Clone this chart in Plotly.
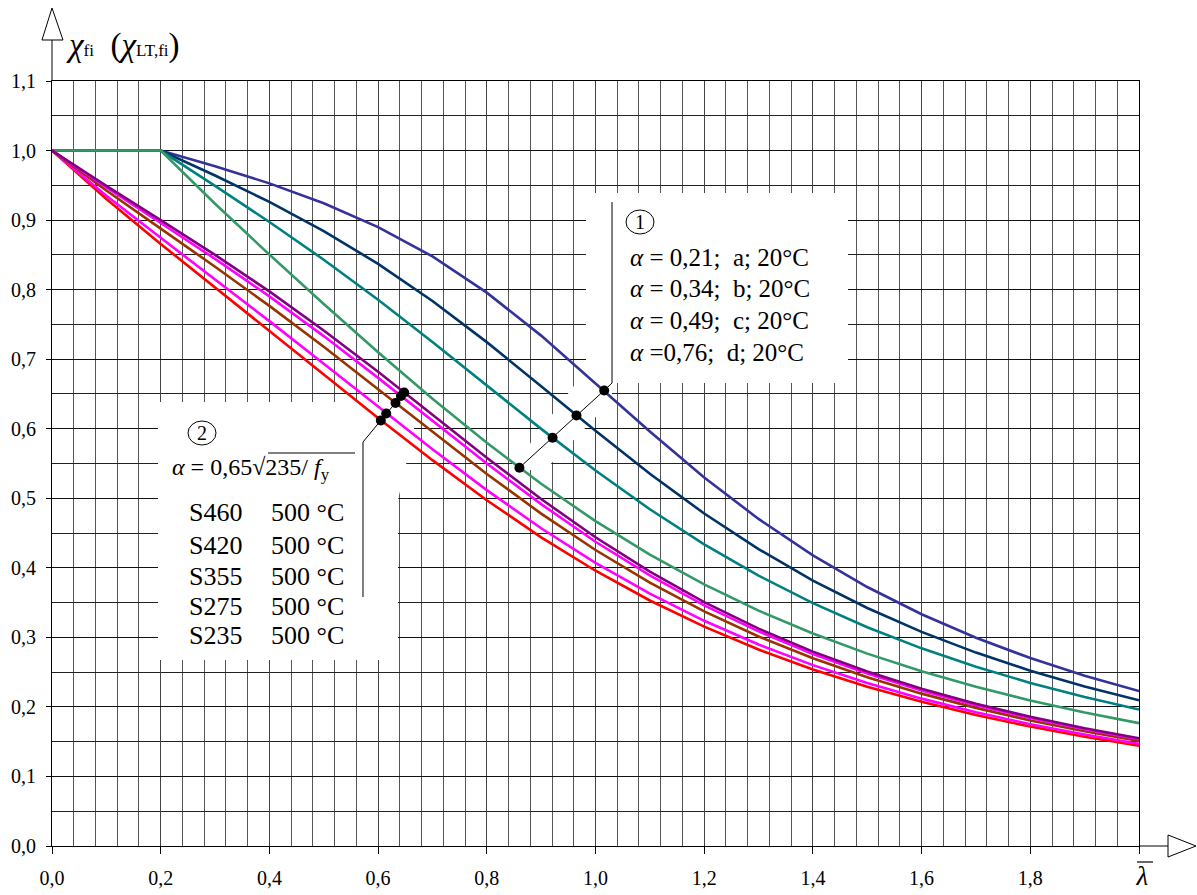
import plotly.graph_objects as go

# ---------------- data ----------------
lam = [0.0, 0.1, 0.2, 0.3, 0.4, 0.5, 0.6, 0.7, 0.8, 0.9, 1.0,
       1.1, 1.2, 1.3, 1.4, 1.5, 1.6, 1.7, 1.8, 1.9, 2.0]

# 20 degC buckling curves a, b, c, d
chi_a = [1.0, 1.0, 1.0, 0.9775, 0.9528, 0.9243, 0.8900, 0.8477, 0.7957, 0.7339, 0.6656,
         0.5960, 0.5300, 0.4703, 0.4179, 0.3724, 0.3332, 0.2994, 0.2702, 0.2449, 0.2229]
chi_b = [1.0, 1.0, 1.0, 0.9641, 0.9261, 0.8842, 0.8371, 0.7837, 0.7245, 0.6612, 0.5970,
         0.5352, 0.4781, 0.4269, 0.3817, 0.3422, 0.3079, 0.2781, 0.2521, 0.2294, 0.2095]
chi_c = [1.0, 1.0, 1.0, 0.9491, 0.8973, 0.8430, 0.7854, 0.7247, 0.6622, 0.5998, 0.5399,
         0.4842, 0.4338, 0.3888, 0.3492, 0.3145, 0.2842, 0.2577, 0.2345, 0.2141, 0.1962]
chi_d = [1.0, 1.0, 1.0, 0.9235, 0.8504, 0.7793, 0.7100, 0.6431, 0.5797, 0.5208, 0.4671,
         0.4189, 0.3762, 0.3385, 0.3055, 0.2766, 0.2512, 0.2289, 0.2093, 0.1920, 0.1766]

# fire curves at 500 degC
chi_s460 = [1.0, 0.9491, 0.8999, 0.8500, 0.7974, 0.7413, 0.6818, 0.6200, 0.5582, 0.4989, 0.4439,
            0.3944, 0.3507, 0.3126, 0.2795, 0.2509, 0.2261, 0.2045, 0.1858, 0.1694, 0.1549]
chi_s420 = [1.0, 0.9469, 0.8958, 0.8442, 0.7903, 0.7332, 0.6731, 0.6114, 0.5501, 0.4916, 0.4375,
            0.3890, 0.3461, 0.3087, 0.2762, 0.2481, 0.2237, 0.2025, 0.1840, 0.1678, 0.1536]
chi_s355 = [1.0, 0.9425, 0.8878, 0.8330, 0.7766, 0.7178, 0.6569, 0.5953, 0.5350, 0.4779, 0.4256,
            0.3787, 0.3374, 0.3013, 0.2699, 0.2427, 0.2191, 0.1986, 0.1806, 0.1649, 0.1510]
chi_s275 = [1.0, 0.9351, 0.8745, 0.8149, 0.7547, 0.6934, 0.6315, 0.5704, 0.5117, 0.4569, 0.4072,
            0.3629, 0.3238, 0.2898, 0.2601, 0.2343, 0.2119, 0.1923, 0.1752, 0.1602, 0.1469]
chi_s235 = [1.0, 0.9302, 0.8656, 0.8030, 0.7405, 0.6778, 0.6155, 0.5548, 0.4972, 0.4439, 0.3958,
            0.3530, 0.3154, 0.2825, 0.2539, 0.2290, 0.2073, 0.1883, 0.1717, 0.1571, 0.1443]

# marked points on the curves
dots1_x = [0.860, 0.921, 0.965, 1.016]
dots1_y = [0.544, 0.587, 0.619, 0.655]
dots2_x = [0.605, 0.615, 0.632, 0.642, 0.648]
dots2_y = [0.612, 0.622, 0.637, 0.647, 0.652]

x_tick_vals = [0.0, 0.2, 0.4, 0.6, 0.8, 1.0, 1.2, 1.4, 1.6, 1.8, 2.0]
x_tick_text = ["0,0", "0,2", "0,4", "0,6", "0,8", "1,0", "1,2", "1,4", "1,6", "1,8",
               "<span style='font-size:27px'> <i>λ</i></span>"]
y_tick_vals = [0.0, 0.1, 0.2, 0.3, 0.4, 0.5, 0.6, 0.7, 0.8, 0.9, 1.0, 1.1]
y_tick_text = ["0,0", "0,1", "0,2", "0,3", "0,4", "0,5", "0,6", "0,7", "0,8", "0,9", "1,0", "1,1"]

legend1 = ["<i>α</i> = 0,21;  a; 20°C", "<i>α</i> = 0,34;  b; 20°C",
           "<i>α</i> = 0,49;  c; 20°C", "<i>α</i> =0,76;  d; 20°C"]
steels = ["S460", "S420", "S355", "S275", "S235"]

# ---------------- layout geometry (pixels) ----------------
W, H = 1197, 895
L, R, T, B = 52, 1139, 81, 846
FONT = "Liberation Serif, Times New Roman, serif"
XMAX, YMAX = 2.0, 1.1


def px(x):
    return (x - L) / (R - L)


def py(y):
    return (B - y) / (B - T)


def dx(x):
    return px(x) * XMAX


def dy(y):
    return py(y) * YMAX


def path(points):
    return "M " + " L ".join(f"{px(a):.5f},{py(b):.5f}" for a, b in points) + " Z"


def dpath(points):
    return "M " + " L ".join(f"{a:.4f},{b:.4f}" for a, b in points)


fig = go.Figure()

# white callout areas: over the grid, under the curves
box1 = [(586, 193), (848, 193), (848, 383), (612, 383), (612, 400), (545, 470), (510, 470), (586, 370), (586, 193)]
box2 = [(158, 402), (420, 402), (398, 500), (398, 660), (158, 660), (158, 402)]
for bx in (box1, box2):
    fig.add_trace(go.Scatter(x=[dx(a) for a, b in bx], y=[dy(b) for a, b in bx], mode="lines",
                             fill="toself", fillcolor="white", line=dict(width=0, color="white"),
                             hoverinfo="skip"))

curves = [
    (chi_a, "#333399"), (chi_b, "#003366"), (chi_c, "#008080"), (chi_d, "#339966"),
    (chi_s235, "#FF0000"), (chi_s275, "#FF00FF"), (chi_s355, "#993300"),
    (chi_s420, "#FF00FF"), (chi_s460, "#800080"),
]
for ys, col in curves:
    fig.add_trace(go.Scatter(x=lam, y=ys, mode="lines",
                             line=dict(color=col, width=2.6), hoverinfo="skip"))

fig.add_trace(go.Scatter(x=dots1_x + dots2_x, y=dots1_y + dots2_y, mode="markers",
                         marker=dict(color="black", size=10), hoverinfo="skip"))

shapes = []
# leader lines
lead1 = [(dots1_x[0], dots1_y[0]), (dots1_x[-1], dots1_y[-1]), (dx(612), dy(383)), (dx(612), dy(202))]
lead2 = [(dx(363), dy(597)), (dx(363), dy(442)), (dots2_x[0], dots2_y[0]), (dots2_x[-1], dots2_y[-1])]
for ld in (lead1, lead2):
    shapes.append(dict(type="path", xref="x", yref="y", path=dpath(ld),
                       line=dict(color="black", width=1), layer="above"))

# axis extensions and arrow heads
shapes.append(dict(type="line", xref="paper", yref="paper", x0=px(52), y0=py(81), x1=px(52), y1=py(40),
                   line=dict(color="black", width=1)))
shapes.append(dict(type="line", xref="paper", yref="paper", x0=px(1139), y0=py(846), x1=px(1168), y1=py(846),
                   line=dict(color="black", width=1)))
shapes.append(dict(type="path", xref="paper", yref="paper", path=path([(42, 40), (52, 8), (63, 40)]),
                   fillcolor="white", line=dict(color="black", width=1)))
shapes.append(dict(type="path", xref="paper", yref="paper", path=path([(1168, 835), (1196, 846), (1168, 857)]),
                   fillcolor="white", line=dict(color="black", width=1)))
# overline of lambda
shapes.append(dict(type="line", xref="paper", yref="paper", x0=px(1137), y0=py(862), x1=px(1153), y1=py(862),
                   line=dict(color="black", width=1.2)))
# radical overline
shapes.append(dict(type="line", xref="paper", yref="paper", x0=px(268), y0=py(453), x1=px(355), y1=py(453),
                   line=dict(color="black", width=1.2)))
# circles around 1 and 2
for cx, cy in ((640, 222), (202, 433)):
    shapes.append(dict(type="circle", xref="paper", yref="paper",
                       x0=px(cx - 14), x1=px(cx + 14), y0=py(cy + 12), y1=py(cy - 12),
                       line=dict(color="black", width=1)))

ann = []


def text(x, y, s, size, xanchor="left"):
    ann.append(dict(x=px(x), y=py(y), xref="paper", yref="paper", text=s, showarrow=False,
                    xanchor=xanchor, yanchor="middle", font=dict(family=FONT, size=size, color="black")))


text(64, 46, "<i>χ</i><span style='font-size:17px'>fi</span>  (<i>χ</i><span style='font-size:17px'>LT,fi</span>)", 33)
text(640, 222, "1", 20, xanchor="center")
text(202, 433, "2", 20, xanchor="center")
for i, s in enumerate(legend1):
    text(628, [257, 288, 320, 353][i], s, 25)
text(170, 469, "<i>α</i> = 0,65√235/ <i>f</i><sub>y</sub>", 24)
for i, s in enumerate(steels):
    yy = [512, 545, 576, 606, 635][i]
    text(187, yy, s, 26)
    text(269, yy, "500 °C", 26)

fig.update_layout(
    template="none",
    width=W, height=H,
    margin=dict(l=L, r=W - R, t=T, b=H - B, pad=0, autoexpand=False),
    paper_bgcolor="white", plot_bgcolor="white",
    showlegend=False,
    shapes=shapes, annotations=ann,
    font=dict(family=FONT, color="black"),
)
fig.update_xaxes(
    range=[0, XMAX], automargin=False, tickmode="array", tickvals=x_tick_vals, ticktext=x_tick_text,
    ticks="outside", ticklen=7, tickcolor="black", tickwidth=1,
    showline=True, linecolor="black", linewidth=1, mirror=True,
    showgrid=True, gridcolor="#444", gridwidth=1, zeroline=False,
    minor=dict(tickmode="linear", tick0=0, dtick=0.04, showgrid=True, gridcolor="#555", gridwidth=1, ticks=""),
    tickfont=dict(family=FONT, size=20, color="black"), ticklabelstandoff=7,
)
fig.update_yaxes(
    range=[0, YMAX], automargin=False, tickmode="array", tickvals=y_tick_vals, ticktext=y_tick_text,
    ticks="outside", ticklen=5, tickcolor="black", tickwidth=1,
    showline=True, linecolor="black", linewidth=1, mirror=True,
    showgrid=True, gridcolor="#111", gridwidth=1, zeroline=False,
    minor=dict(tickmode="linear", tick0=0, dtick=0.05, showgrid=True, gridcolor="#222", gridwidth=1, ticks=""),
    tickfont=dict(family=FONT, size=20, color="black"), ticklabelstandoff=6,
)

fig.write_html("out.html", config={"displayModeBar": False},
               post_script="document.body.style.margin='0';document.body.style.overflow='hidden';")
